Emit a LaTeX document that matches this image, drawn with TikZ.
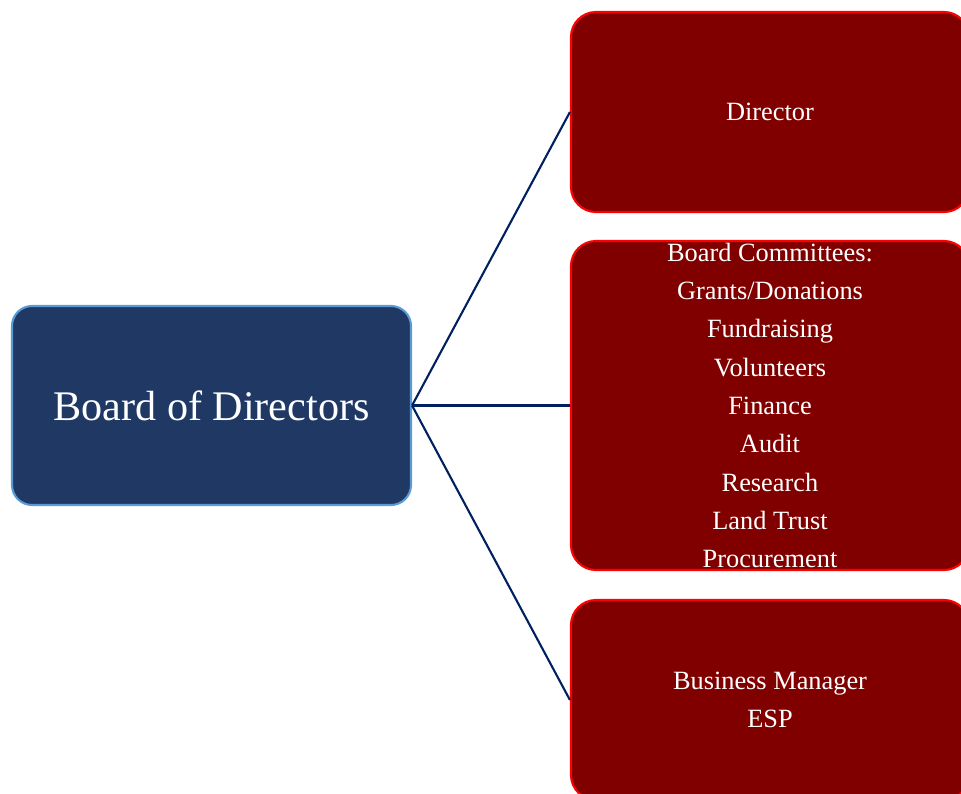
\documentclass[tikz,border=0pt]{standalone}
\usepackage{fontspec}
\setmainfont{Liberation Serif}
\usepackage{tikz}
\usepackage{xcolor}
\definecolor{boardfill}{RGB}{32,56,100}
\definecolor{boardline}{RGB}{91,155,213}
\definecolor{unitfill}{RGB}{128,0,0}
\definecolor{unitline}{RGB}{255,0,0}
\definecolor{linkcol}{RGB}{0,32,96}
\tikzstyle{board}=[draw=boardline,fill=boardfill,line width=1.2pt,rounded corners=0.4cm,
  text=white,minimum width=7.98cm,minimum height=3.98cm,font=\fontsize{24}{29}\selectfont]
\tikzstyle{unit}=[draw=unitline,fill=unitfill,line width=1.2pt,rounded corners=0.5cm,
  minimum width=7.96cm,minimum height=4cm,text=white,align=center,
  font=\fontsize{15}{21.8}\selectfont]
\tikzstyle{link}=[linkcol,line width=1.2pt]

\begin{document}
\begin{tikzpicture}
  \useasboundingbox (0,0) rectangle (19.22,-15.88);
  \def\ux{15.40}
  \coordinate (B) at (4.23,-8.11);
  \coordinate (U1) at (\ux,-2.24);
  \coordinate (U2) at (\ux,-8.11);
  \coordinate (U3) at (\ux,-14.0);

  % left
  \node[board] (board) at (B) {Board of Directors};

  % right
  \node[unit] (director) at (U1) {Director};
  \node[unit,minimum height=6.58cm] (committees) at (U2) {};
  \node[text=white,align=center,font=\fontsize{15}{21.8}\selectfont] (committeelist) at (U2)
    {Board Committees:\\Grants/Donations\\Fundraising\\Volunteers\\Finance\\Audit\\Research\\Land Trust\\Procurement};
  \node[unit] (business) at (U3) {Business Manager\\ESP};

  \draw[link] (board.east) -- (director.west);
  \draw[link] (board.east) -- (committees.west);
  \draw[link] (board.east) -- (business.west);

\end{tikzpicture}
\end{document}
